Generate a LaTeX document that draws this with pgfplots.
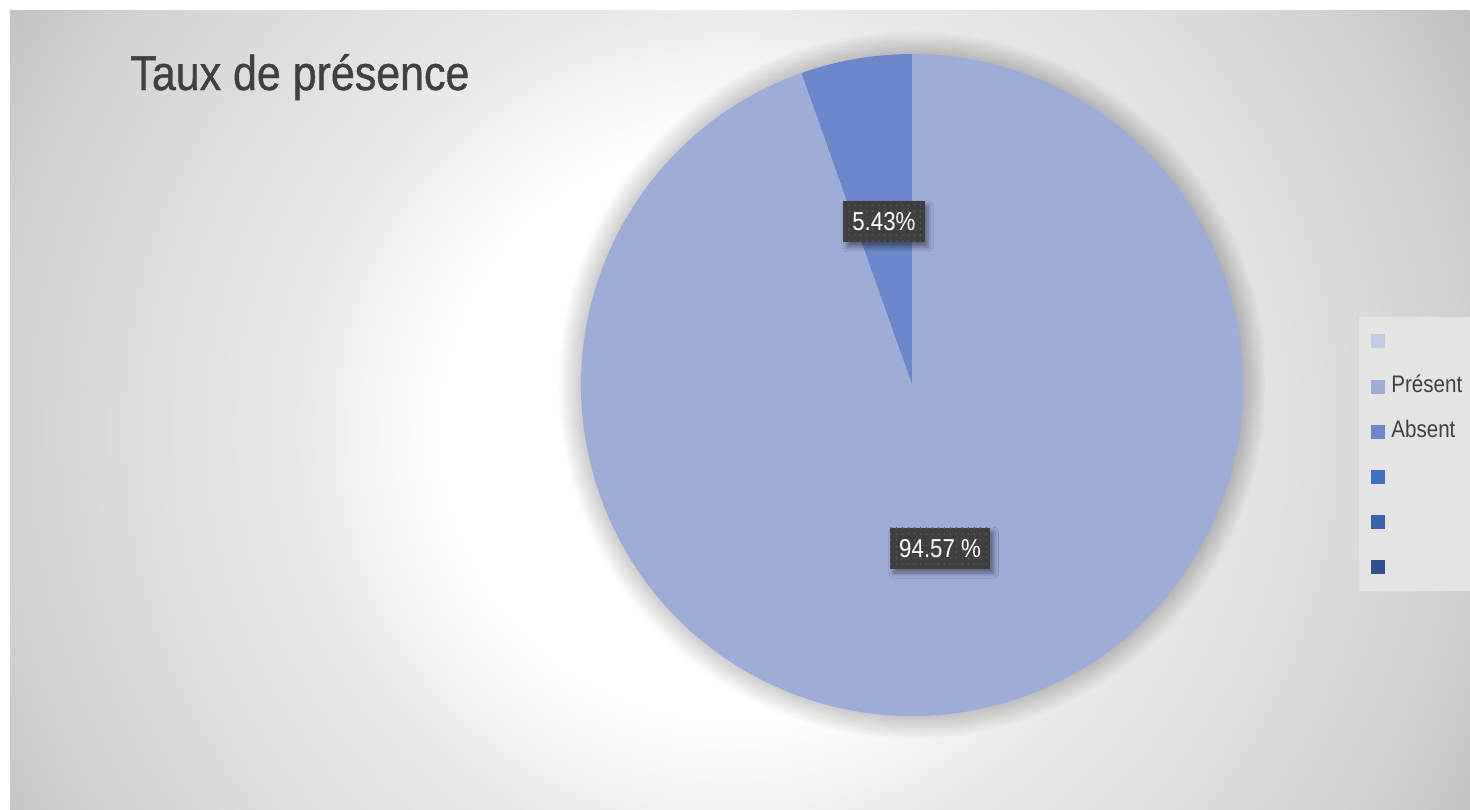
\documentclass[border=0pt]{standalone}
\usepackage{pgfplots}
\pgfplotsset{compat=1.18}
\usepackage{fontspec}
\setmainfont{Liberation Sans}[FakeStretch=0.86]
\newfontfamily\titlefont{Liberation Sans}[FakeStretch=0.88, FakeBold=0.8]
\usetikzlibrary{patterns,shadows.blur}

\definecolor{present}{HTML}{9EADD8}
\definecolor{absent}{HTML}{6D88CA}
\definecolor{legA}{HTML}{C1CBE6}
\definecolor{legD}{HTML}{4170C2}
\definecolor{legE}{HTML}{3A62AA}
\definecolor{legF}{HTML}{2F518E}
\definecolor{txtgray}{HTML}{404040}
\definecolor{lblbg}{HTML}{3F3F3F}
\definecolor{lbldot}{HTML}{555555}
\definecolor{legbg}{HTML}{E4E4E4}
\definecolor{bgA}{HTML}{EAEAEA}
\definecolor{bgB}{HTML}{D2D2D2}
\definecolor{bgC}{HTML}{C0C0C0}

\pgfdeclareradialshading{bgshade}{\pgfpoint{0bp}{0bp}}{color(0bp)=(white); color(8.5bp)=(white); color(12.5bp)=(bgA); color(21.5bp)=(bgB); color(25bp)=(bgC); color(50bp)=(bgC)}

% data (percent)
\def\vAbsent{5.43}
\def\vPresent{94.57}

\begin{document}
\begin{tikzpicture}[x=1bp,y=1bp]
\useasboundingbox (0,0) rectangle (735,-404.5);
\fill[white] (0,0) rectangle (735,-404.5);
\begin{scope}
\clip (5,-5) rectangle (735,-404.5);
\shade[shading=bgshade] (365,-215) circle (425);
\end{scope}
\node[anchor=base west, text=txtgray, inner sep=0pt, font=\titlefont\fontsize{24.5}{29}\selectfont] at (65,-45) {Taux de présence};

\pgfmathsetmacro\angA{90+3.6*\vAbsent}
\pgfmathsetmacro\midA{90+1.8*\vAbsent}
\pgfmathsetmacro\midP{\angA+1.8*\vPresent}
\begin{axis}[
  at={(456bp,-192.5bp)}, anchor=center,
  width=331bp, height=331bp, scale only axis,
  hide axis, xmin=-1, xmax=1, ymin=-1, ymax=1, clip=false,
  legend image code/.code={\fill[#1, draw=none] (0bp,-3.5bp) rectangle (7bp,3.5bp);},
  legend style={at={(1.1752,0.6027)}, anchor=north west,
    draw=none, fill=legbg,
    inner xsep=6bp, inner ysep=6.5bp,
    row sep=11.6bp, column sep=0bp,
    font=\fontsize{12}{14}\selectfont, text=txtgray,
    nodes={inner sep=0pt, text height=8.5bp, text depth=2.5bp}},
  legend cell align=left,
]
% soft halo behind the pie
\pgfplotsinvokeforeach{1,...,16}{
  \fill[black, opacity=0.013] (axis cs:0,0) circle[radius={165.5bp+0.72bp*#1}];
}
\fill[absent] (axis cs:0,0) -- (axis cs:0,1) arc[start angle=90, end angle=\angA, radius=165.5bp] -- cycle;
\fill[present] (axis cs:0,0) -- (axis cs:{cos(\angA)},{sin(\angA)}) arc[start angle=\angA, end angle=450, radius=165.5bp] -- cycle;

\addlegendimage{fill=legA}\addlegendentry{\mbox{}\hspace{3bp}}
\addlegendimage{fill=present}\addlegendentry{\hspace{3bp}Présent}
\addlegendimage{fill=absent}\addlegendentry{\hspace{3bp}Absent}
\addlegendimage{fill=legD}\addlegendentry{\mbox{}\hspace{3bp}}
\addlegendimage{fill=legE}\addlegendentry{\mbox{}\hspace{3bp}}
\addlegendimage{fill=legF}\addlegendentry{\mbox{}\hspace{3bp}}

\tikzset{lbl/.style={fill=lblbg, text=white, font=\fontsize{13}{15}\selectfont,
  minimum height=20.5bp, inner xsep=4.5bp, inner ysep=0pt,
  blur shadow={shadow xshift=1.8bp, shadow yshift=-2.2bp, shadow blur radius=2.5bp, shadow opacity=45},
  postaction={pattern=dots, pattern color=lbldot}}}
\node[lbl] at (axis cs:{0.5*cos(\midA)},{0.5*sin(\midA)}) {5.43\%};
\node[lbl] at (axis cs:{0.5*cos(\midP)},{0.5*sin(\midP)}) {94.57 \%};
\end{axis}
\end{tikzpicture}
\end{document}
